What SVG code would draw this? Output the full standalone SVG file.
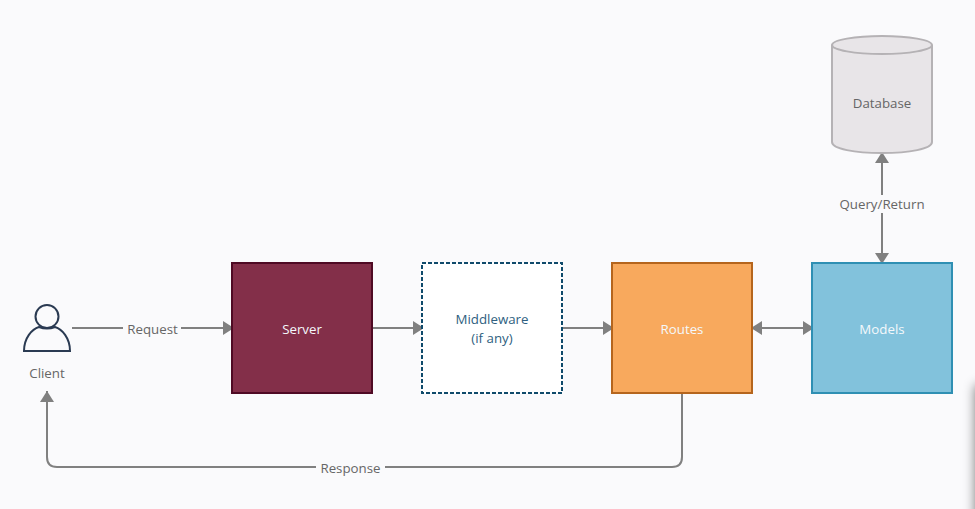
<svg xmlns="http://www.w3.org/2000/svg" width="975" height="509" viewBox="0 0 975 509">
<style>
text{font-family:"Open Sans","Noto Sans",sans-serif;font-size:13.300px;text-anchor:middle}
.l{fill:#666}
.w{fill:#f4f8fb}
.c{fill:none;stroke:#808080;stroke-width:2}
.h{fill:#808080}
</style>
<defs>
<marker id="a" markerUnits="userSpaceOnUse" markerWidth="12" markerHeight="14" refX="11" refY="7" orient="auto-start-reverse"><path class="h" d="M0 0L11 7L0 14Z"/></marker>
<filter id="b" x="-300%" y="-20%" width="700%" height="140%"><feGaussianBlur stdDeviation="6"/></filter>
</defs>
<rect width="975" height="509" fill="#fafafc"/>
<rect x="975" y="385" width="20" height="160" fill="#000" opacity=".5" filter="url(#b)"/>
<g id="connectors">
<path class="c" d="M72 328H123M181 328H234" marker-end="url(#a)"/>
<path class="c" d="M372 328H424" marker-end="url(#a)"/>
<path class="c" d="M562 328H614" marker-end="url(#a)"/>
<path class="c" d="M751 328H814" marker-start="url(#a)" marker-end="url(#a)"/>
<path class="c" d="M882 152V264" marker-start="url(#a)" marker-end="url(#a)"/>
<path class="c" d="M682 393V457Q682 467 672 467H57Q47 467 47 457V391" marker-end="url(#a)"/>
</g>
<g id="labels">
<rect x="123" y="320" width="58" height="18" fill="#fafafc"/>
<text class="l" x="152.500" y="333.500">Request</text>
<rect x="835" y="195" width="94" height="18" fill="#fafafc"/>
<text class="l" x="882" y="208.500">Query/Return</text>
<rect x="316" y="459" width="69" height="18" fill="#fafafc"/>
<text class="l" x="350.500" y="472.500">Response</text>
</g>
<g id="client">
<circle cx="47" cy="316.500" r="11.500" fill="none" stroke="#2a3a52" stroke-width="2"/>
<path d="M24 351C24 338 32 329 39 327C44 329 50 329 55 327C62 329 70 338 70 351Z" fill="none" stroke="#2a3a52" stroke-width="2"/>
<text class="l" x="47" y="377.500">Client</text>
</g>
<g id="server">
<rect x="232" y="263" width="140" height="130" fill="#832f49" stroke="#4f0a24" stroke-width="2"/>
<text class="w" x="302" y="333.500">Server</text>
</g>
<g id="middleware">
<rect x="422" y="263" width="140" height="130" fill="#fff" stroke="#0f4a6b" stroke-width="2" stroke-dasharray="4 2"/>
<text x="492" y="323.500" fill="#2f5f7f">Middleware</text>
<text x="492" y="343" fill="#2f5f7f">(if any)</text>
</g>
<g id="routes">
<rect x="612" y="263" width="140" height="130" fill="#f8a95d" stroke="#b5651d" stroke-width="2"/>
<text class="w" x="682" y="333.500">Routes</text>
</g>
<g id="models">
<rect x="812" y="263" width="140" height="130" fill="#82c2dc" stroke="#2f8fb3" stroke-width="2"/>
<text class="w" x="882" y="333.500">Models</text>
</g>
<g id="database">
<path d="M832 45V142C832 149 855 153 882 153C909 153 932 149 932 142V45C932 40 909 36 882 36C855 36 832 40 832 45Z" fill="#e8e5e8" stroke="#b5b2b5" stroke-width="2"/>
<path d="M832 45C832 50 855 54 882 54C909 54 932 50 932 45" fill="none" stroke="#b5b2b5" stroke-width="2"/>
<text class="l" x="882" y="107.500">Database</text>
</g>
</svg>
